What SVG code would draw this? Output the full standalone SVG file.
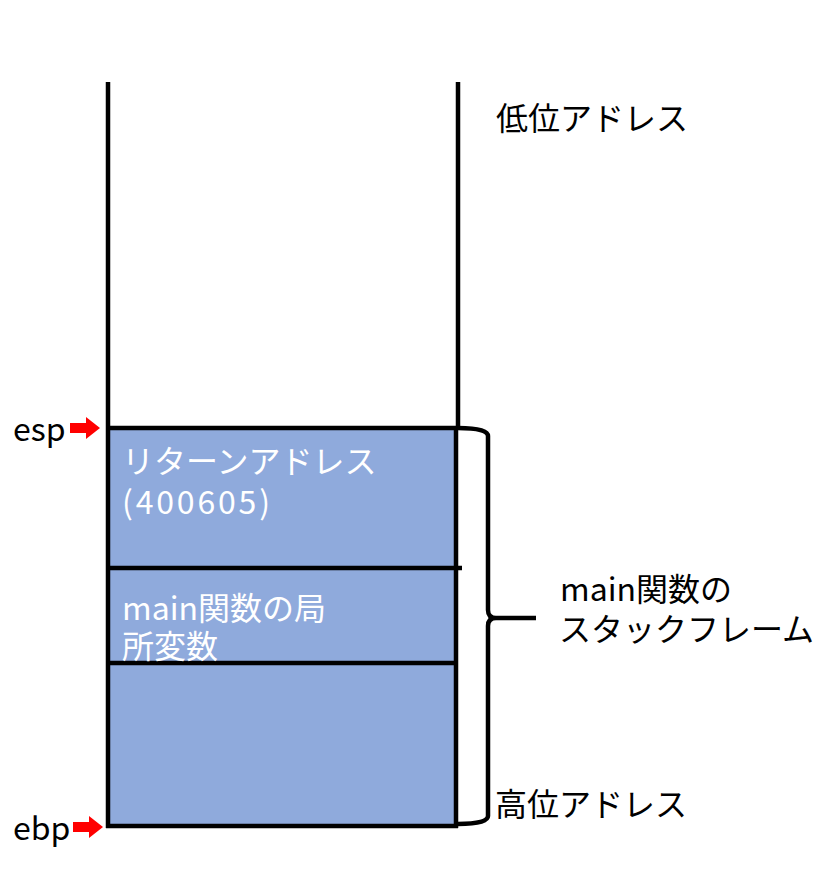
<svg xmlns="http://www.w3.org/2000/svg" width="815" height="870" viewBox="0 0 815 870">
<style>
text{font-family:"Noto Sans CJK JP","Noto Sans",sans-serif;font-size:32px}
.b{fill:#000}
.w{fill:#fff}
.ln{stroke:#000;stroke-width:4.5;fill:none}
</style>
<defs>
<path id="arr" d="M0,-5 H16 V-11 L30,0 L16,11 V5 H0 Z" fill="#f00"/>
</defs>
<rect x="0" y="0" width="815" height="870" fill="#fff"/>
<g id="frame">
<rect x="110" y="428" width="346" height="398" fill="#8faadc"/>
<line class="ln" x1="108" y1="82" x2="108" y2="828"/>
<line class="ln" x1="458" y1="82" x2="458" y2="428"/>
<line class="ln" x1="456" y1="428" x2="456" y2="828"/>
<line class="ln" x1="106" y1="428" x2="458" y2="428"/>
<line class="ln" x1="106" y1="826" x2="458" y2="826"/>
</g>
<g id="cell-ret">
<line class="ln" x1="108" y1="568" x2="462" y2="568"/>
<text class="w" x="122" y="473">リターンアドレス</text>
<text class="w" x="122" y="514" textLength="148" lengthAdjust="spacing">(400605)</text>
</g>
<g id="cell-local">
<line class="ln" x1="108" y1="663" x2="456" y2="663"/>
<text class="w" x="122" y="620">main関数の局</text>
<text class="w" x="122" y="658">所変数</text>
</g>
<g id="labels">
<text class="b" x="496" y="130">低位アドレス</text>
<text class="b" x="495" y="816">高位アドレス</text>
<text class="b" x="560" y="601">main関数の</text>
<text class="b" x="559" y="641">スタックフレーム</text>
<text class="b" x="13" y="441">esp</text>
<text class="b" x="13" y="840">ebp</text>
</g>
<g id="connectors">
<use href="#arr" x="70" y="428"/>
<use href="#arr" x="73" y="827"/>
<path class="ln" d="M458,428 Q488,428 488,436 V610 Q488,618 496,618 H536 M496,618 Q488,618 488,626 V816 Q488,824 458,824"/>
</g>
</svg>
